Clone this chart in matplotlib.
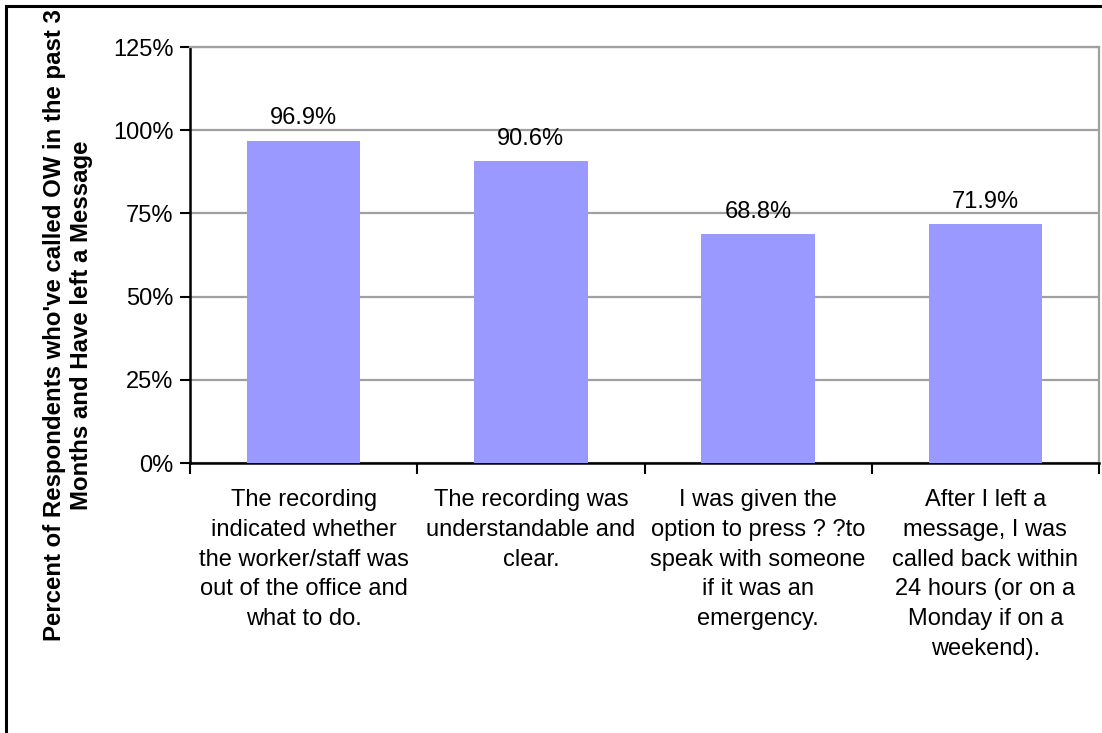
import matplotlib
matplotlib.use("Agg")
import matplotlib.pyplot as plt
from matplotlib.patches import Rectangle
from matplotlib.ticker import FixedLocator, PercentFormatter

plt.rcParams['font.family'] = ['Liberation Sans', 'DejaVu Sans']

# data
categories = [
    "The recording\nindicated whether\nthe worker/staff was\nout of the office and\nwhat to do.",
    "The recording was\nunderstandable and\nclear.",
    "I was given the\noption to press ? ?to\nspeak with someone\nif it was an\nemergency.",
    "After I left a\nmessage, I was\ncalled back within\n24 hours (or on a\nMonday if on a\nweekend).",
]
values = [96.9, 90.6, 68.8, 71.9]
y_ticks = [0, 25, 50, 75, 100, 125]
y_label = "Percent of Respondents who've called OW in the past 3\nMonths and Have left a Message"

fig = plt.figure(figsize=(11.02, 7.33), dpi=100)
ax = fig.add_axes([190 / 1102, 1 - 463 / 733, 909 / 1102, 416 / 733])

x = list(range(len(values)))
bars = ax.bar(x, values, width=0.5, color='#9999ff', zorder=3)

for xi, v in zip(x, values):
    ax.annotate(f"{v:.1f}%", (xi, v), xytext=(0, 8), textcoords='offset points',
                ha='center', va='bottom', fontsize=17)

ax.set_xlim(-0.5, len(values) - 0.5)
ax.set_ylim(0, 125)
ax.set_yticks(y_ticks)
ax.yaxis.set_major_formatter(PercentFormatter(decimals=0))
ax.grid(axis='y', color='#a0a0a0', linewidth=1.6, zorder=0)

ax.set_xticks(x)
ax.set_xticklabels(categories, fontsize=17, linespacing=1.45)
ax.xaxis.set_minor_locator(FixedLocator([i - 0.5 for i in range(len(values) + 1)]))
ax.tick_params(axis='x', which='major', length=0, pad=19)
ax.tick_params(axis='x', which='minor', length=8, width=1.5, direction='out')
ax.tick_params(axis='y', labelsize=17, length=7, width=1.5, direction='out', pad=5)

for side in ['left', 'bottom']:
    ax.spines[side].set_linewidth(1.8)
    ax.spines[side].set_color('black')
for side in ['top', 'right']:
    ax.spines[side].set_linewidth(1.6)
    ax.spines[side].set_color('#a0a0a0')

fig.text(68 / 1102, 1 - 325 / 733, y_label, rotation=90, ha='center', va='center',
         fontsize=17.3, fontweight='bold', linespacing=1.25)

# outer chart border
fig.patches.append(Rectangle((6 / 1102, -0.05), 1.1, 1 - 6 / 733 + 0.05,
                             transform=fig.transFigure, fill=False,
                             edgecolor='black', linewidth=2.2))

fig.savefig('out.png', dpi=100)
